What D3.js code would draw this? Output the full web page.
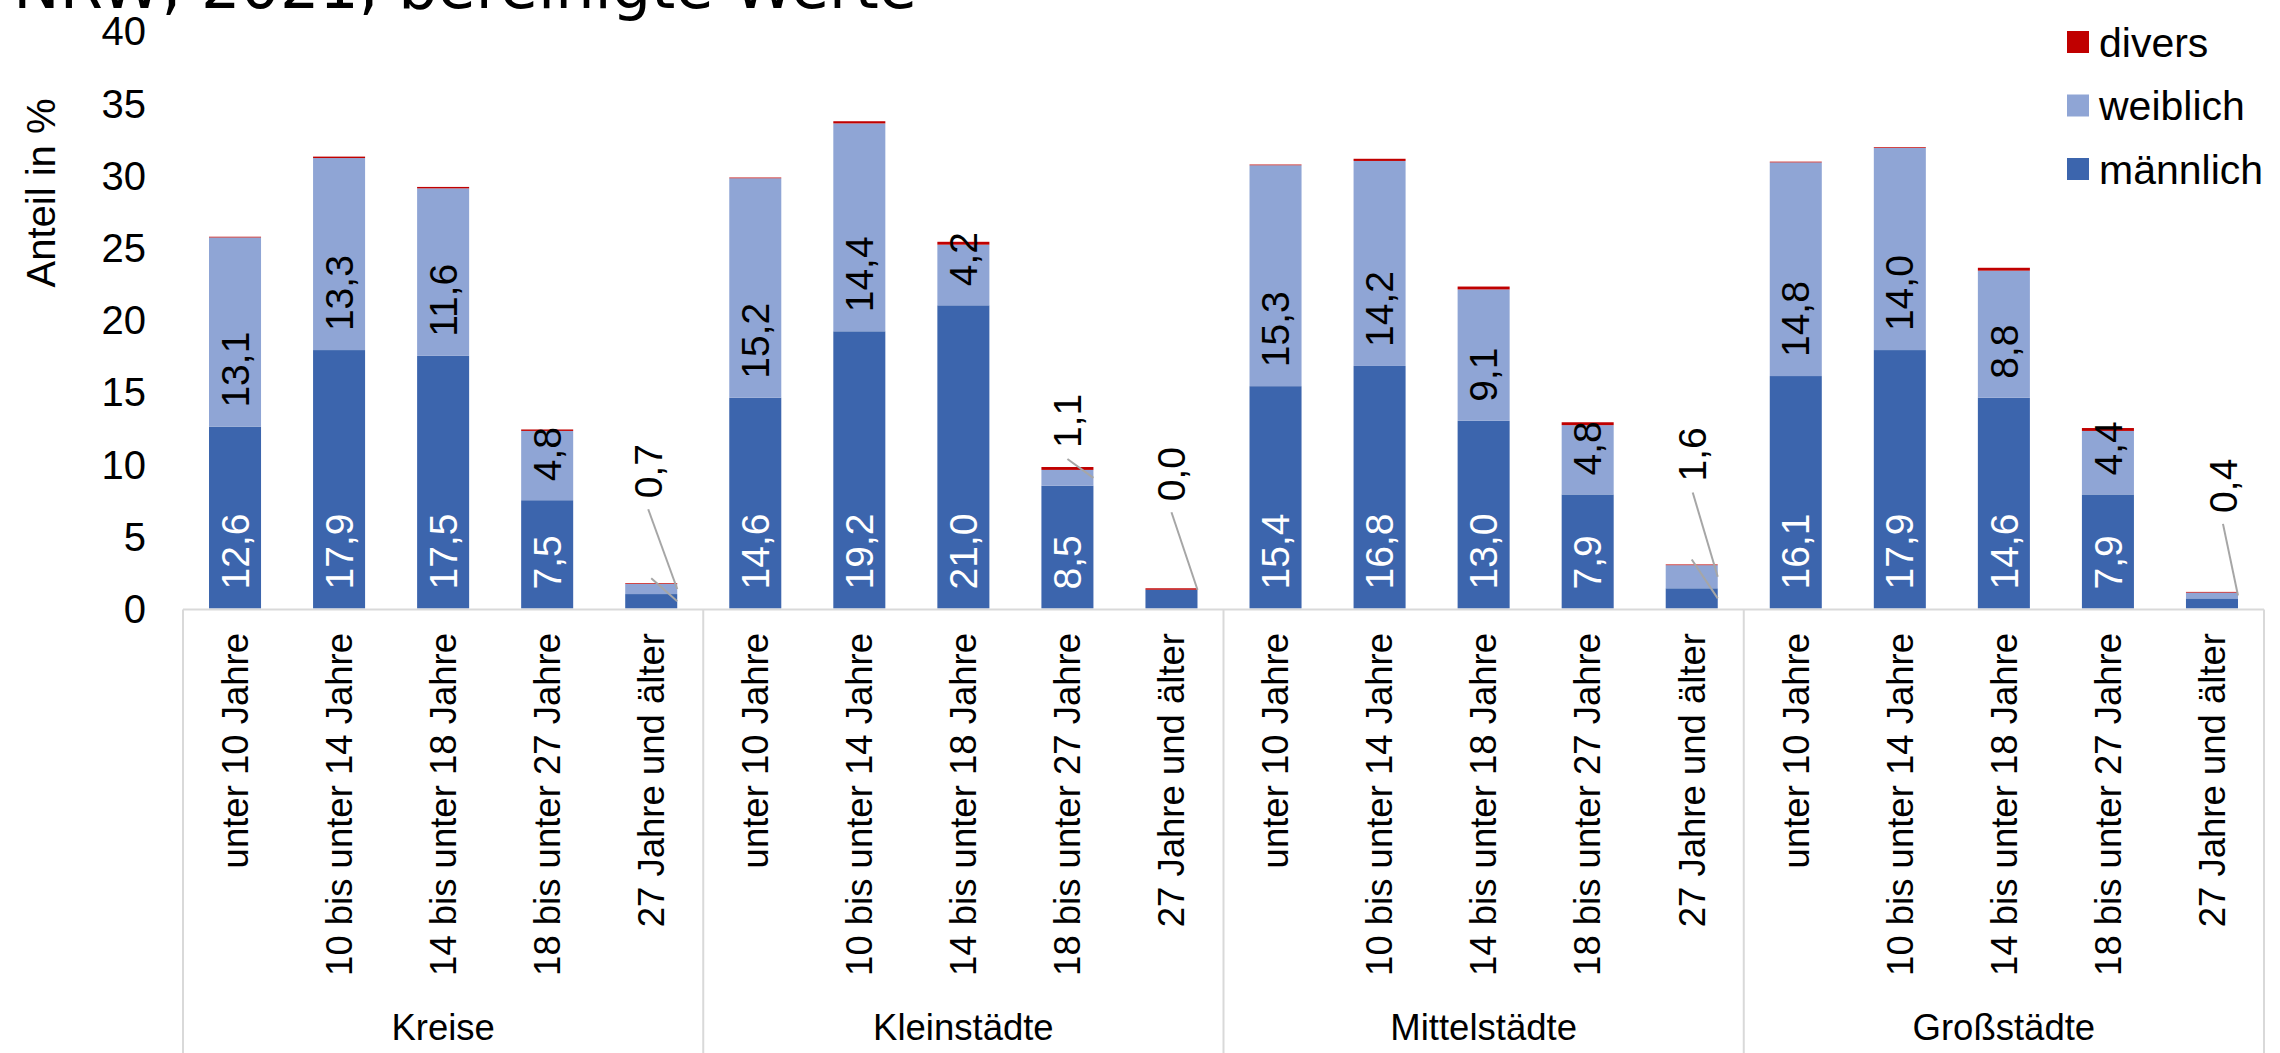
<!DOCTYPE html>
<html><head><meta charset="utf-8">
<script src="https://cdn.jsdelivr.net/npm/d3@7"></script>
<style>
html,body{margin:0;padding:0;background:#fff;overflow:hidden}
svg{display:block}
text{font-family:"Liberation Sans",Arial,sans-serif}
</style></head><body>
<svg id="chart" width="2280" height="1053"></svg>
<script>
// ---------- data ----------
const titleText = "NRW, 2021, bereinigte Werte";
const yTitle = "Anteil in %";
const groups = ["Kreise", "Kleinstädte", "Mittelstädte", "Großstädte"];
const ageClasses = ["unter 10 Jahre", "10 bis unter 14 Jahre", "14 bis unter 18 Jahre", "18 bis unter 27 Jahre", "27 Jahre und älter"];
const seriesNames = ["männlich", "weiblich", "divers"];
const maennlich = [12.6, 17.9, 17.5, 7.5, 1.0,  14.6, 19.2, 21.0, 8.5, 1.3,  15.4, 16.8, 13.0, 7.9, 1.4,  16.1, 17.9, 14.6, 7.9, 0.7];
const weiblich  = [13.1, 13.3, 11.6, 4.8, 0.7,  15.2, 14.4, 4.2, 1.1, 0.0,  15.3, 14.2, 9.1, 4.8, 1.6,  14.8, 14.0, 8.8, 4.4, 0.4];
const divers    = [0.05, 0.1, 0.1, 0.1, 0.05,  0.05, 0.15, 0.2, 0.2, 0.1,  0.05, 0.15, 0.2, 0.2, 0.05,  0.05, 0.05, 0.2, 0.2, 0.05];
const yTicks = [0, 5, 10, 15, 20, 25, 30, 35, 40];
// bars whose "weiblich" label is a callout with leader line
const calloutBars = [4, 8, 9, 14, 19];
// bars whose hidden "männlich" label leaves a leader line
const hiddenLeaderBars = [4, 14];

// ---------- layout ----------
const W = 2280, H = 1053;
const plotLeft = 183, plotRight = 2264, yBase = 608.5, yTop = 31;
const colors = {"männlich": "#3C65AD", "weiblich": "#8FA5D5", "divers": "#C00000"};
const calloutLift = {4: 85, 8: 19, 9: 87, 14: 83, 19: 79};
const calloutShift = {4: -3, 8: 0, 9: 0, 14: 1, 19: 11};

const rows = maennlich.map((m, i) => ({
  idx: i,
  group: groups[Math.floor(i / ageClasses.length)],
  age: ageClasses[i % ageClasses.length],
  "männlich": m, "weiblich": weiblich[i], "divers": divers[i]
}));

const fmt = d3.formatLocale({decimal: ",", thousands: ".", grouping: [3], currency: ["", "€"]}).format(".1f");

const svg = d3.select("#chart");
svg.append("rect").attr("width", W).attr("height", H).attr("fill", "#fff");

const x = d3.scaleBand().domain(rows.map(r => r.idx)).range([plotLeft, plotRight]).paddingInner(0.5).paddingOuter(0.25);
const y = d3.scaleLinear().domain([0, 40]).range([yBase, yTop]);
const bw = x.bandwidth();
const cx = i => x(i) + bw / 2;

// title (cut at top)
svg.append("text").attr("x", 917).attr("y", 8).attr("text-anchor", "end")
  .style("font-family", "'DejaVu Sans', sans-serif").style("font-size", "62px").attr("fill", "#000").text(titleText);

// stacked bars
const stack = d3.stack().keys(seriesNames)(rows);
svg.append("g").selectAll("g").data(stack).join("g")
  .attr("fill", d => colors[d.key])
  .selectAll("rect").data(d => d).join("rect")
  .attr("x", d => x(d.data.idx))
  .attr("width", bw)
  .attr("y", d => y(d[1]))
  .attr("height", d => Math.max(0, y(d[0]) - y(d[1])));

// category axis line & group separators
const axis = svg.append("g").attr("stroke", "#D9D9D9").attr("stroke-width", 2);
axis.append("line").attr("x1", plotLeft).attr("x2", plotRight).attr("y1", yBase + 1).attr("y2", yBase + 1);
const groupStep = (plotRight - plotLeft) / groups.length;
d3.range(groups.length + 1).forEach(g => {
  const gx = plotLeft + g * groupStep;
  axis.append("line").attr("x1", gx).attr("x2", gx).attr("y1", yBase + 1).attr("y2", H);
});

// y axis tick labels (no line)
svg.append("g").selectAll("text").data(yTicks).join("text")
  .attr("x", 146).attr("y", d => y(d)).attr("dy", "0.36em")
  .attr("text-anchor", "end").style("font-size", "40px").attr("fill", "#000")
  .text(d => d);

// y title
svg.append("text").attr("transform", `translate(55,193) rotate(-90)`)
  .attr("text-anchor", "middle").style("font-size", "40px").attr("fill", "#000").text(yTitle);

// category labels
svg.append("g").selectAll("text").data(rows).join("text")
  .attr("transform", d => `translate(${cx(d.idx)},633) rotate(-90)`)
  .attr("dy", "0.35em").attr("text-anchor", "end")
  .style("font-size", "36.5px").attr("fill", "#000")
  .text(d => d.age);

// group labels
svg.append("g").selectAll("text").data(groups).join("text")
  .attr("x", (d, i) => plotLeft + (i + 0.5) * groupStep).attr("y", 1040)
  .attr("text-anchor", "middle").style("font-size", "36.5px").attr("fill", "#000")
  .text(d => d);

// value labels: männlich (inside base, white)
const pad = 19;
svg.append("g").selectAll("text").data(rows.filter(r => r.idx % ageClasses.length !== ageClasses.length - 1)).join("text")
  .attr("transform", d => `translate(${cx(d.idx)},${y(0) - pad}) rotate(-90)`)
  .attr("dy", "0.35em").attr("text-anchor", "start")
  .style("font-size", "39px").attr("fill", "#fff")
  .text(d => fmt(d["männlich"]));

// value labels: weiblich inside base
svg.append("g").selectAll("text").data(rows.filter(r => !calloutBars.includes(r.idx))).join("text")
  .attr("transform", d => `translate(${cx(d.idx)},${y(d["männlich"]) - pad}) rotate(-90)`)
  .attr("dy", "0.35em").attr("text-anchor", "start")
  .style("font-size", "39px").attr("fill", "#000")
  .text(d => fmt(d["weiblich"]));

// callouts for weiblich
const co = svg.append("g");
rows.filter(r => calloutBars.includes(r.idx)).forEach(d => {
  const top = y(d["männlich"] + d["weiblich"] + d["divers"]);
  const lx = cx(d.idx) + calloutShift[d.idx];
  const lb = top - calloutLift[d.idx];
  co.append("line").attr("x1", lx).attr("y1", lb + 11)
    .attr("x2", x(d.idx) + bw).attr("y2", y(d["männlich"] + d["weiblich"] / 2))
    .attr("stroke", "#A6A6A6").attr("stroke-width", 2);
  co.append("text").attr("transform", `translate(${lx},${lb}) rotate(-90)`)
    .attr("dy", "0.35em").attr("text-anchor", "start")
    .style("font-size", "39px").attr("fill", "#000")
    .text(fmt(d["weiblich"]));
});
rows.filter(r => hiddenLeaderBars.includes(r.idx)).forEach(d => {
  const top = y(d["männlich"] + d["weiblich"] + d["divers"]);
  co.append("line").attr("x1", cx(d.idx)).attr("y1", top - 5)
    .attr("x2", x(d.idx) + bw).attr("y2", y(d["männlich"] / 2))
    .attr("stroke", "#A6A6A6").attr("stroke-width", 2);
});

// legend
const legendOrder = ["divers", "weiblich", "männlich"];
const lg = svg.append("g").selectAll("g").data(legendOrder).join("g")
  .attr("transform", (d, i) => `translate(2067,${42 + i * 63.5})`);
lg.append("rect").attr("x", 0).attr("y", -11).attr("width", 22).attr("height", 22).attr("fill", d => colors[d]);
lg.append("text").attr("x", 32).attr("y", 0).attr("dy", "0.36em").style("font-size", "41px").attr("fill", "#000").text(d => d);
</script>
</body></html>
